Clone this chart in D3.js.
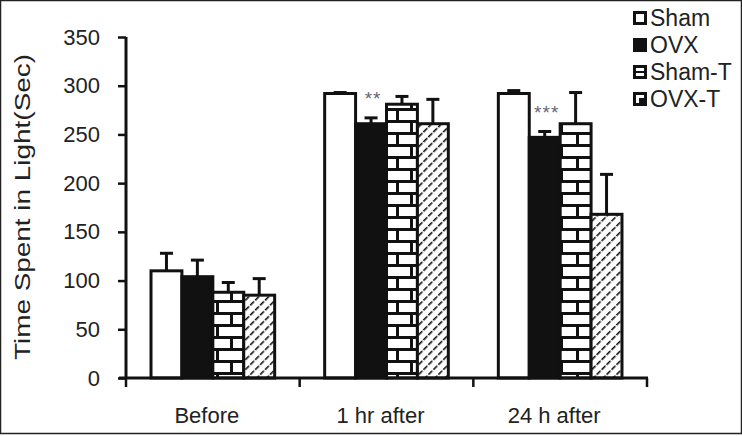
<!DOCTYPE html>
<html><head><meta charset="utf-8">
<script src="https://cdn.jsdelivr.net/npm/d3@7"></script>
<style>body{margin:0;background:#fff}svg{display:block}text{font-family:"Liberation Sans",Arial,sans-serif}</style>
</head><body><svg id="c" width="742" height="436"></svg>
<script>
const categories = ["Before", "1 hr after", "24 h after"];
const seriesNames = ["Sham", "OVX", "Sham-T", "OVX-T"];
const shamMean  = [110, 292, 292];
const ovxMean   = [104, 261, 247];
const shamTMean = [88, 281, 261];
const ovxTMean  = [85, 261, 168];
const shamErr   = [18, 1, 3];
const ovxErr    = [17, 6, 6];
const shamTErr  = [10, 8, 32];
const ovxTErr   = [17, 25, 41];
const yTicks = [0, 50, 100, 150, 200, 250, 300, 350];
const stars = [{cat: "1 hr after", label: "**"}, {cat: "24 h after", label: "***"}];

const means = [shamMean, ovxMean, shamTMean, ovxTMean];
const errs = [shamErr, ovxErr, shamTErr, ovxTErr];
const data = [];
categories.forEach((c, i) => seriesNames.forEach((s, j) => data.push({cat: c, s, v: means[j][i], e: errs[j][i]})));

const svg = d3.select("#c");
const defs = svg.append("defs");
// brick pattern
const brick = defs.append("pattern").attr("id", "brick").attr("patternUnits", "userSpaceOnUse")
  .attr("width", 30).attr("height", 24);
brick.append("rect").attr("width", 30).attr("height", 24).attr("fill", "#fff");
brick.append("rect").attr("x", 0).attr("y", 0).attr("width", 30).attr("height", 3).attr("fill", "#111");
brick.append("rect").attr("x", 0).attr("y", 12).attr("width", 30).attr("height", 3).attr("fill", "#111");
brick.append("rect").attr("x", 20).attr("y", 0).attr("width", 3).attr("height", 12).attr("fill", "#111");
brick.append("rect").attr("x", 6).attr("y", 12).attr("width", 3).attr("height", 12).attr("fill", "#111");
// hatch pattern
const hatch = defs.append("pattern").attr("id", "hatch").attr("patternUnits", "userSpaceOnUse")
  .attr("width", 7).attr("height", 7).attr("patternTransform", "rotate(45)");
hatch.append("rect").attr("width", 7).attr("height", 7).attr("fill", "#fff");
hatch.append("line").attr("x1", 0).attr("y1", 0).attr("x2", 0).attr("y2", 7)
  .attr("stroke", "#111").attr("stroke-width", 3.2).attr("stroke-dasharray", "4 1.5");

const fills = {"Sham": "#fff", "OVX": "#111", "Sham-T": "url(#brick)", "OVX-T": "url(#hatch)"};

// border
svg.append("rect").attr("x", 0.5).attr("y", 0.5).attr("width", 741).attr("height", 433)
  .attr("fill", "none").attr("stroke", "#222").attr("stroke-width", 1.5);

const y = d3.scaleLinear().domain([0, 350]).range([378, 37]);
const pad = 0.288;
const x0 = d3.scaleBand().domain(categories).range([126, 647]).paddingInner(pad).paddingOuter(pad / 2);
const x1 = d3.scaleBand().domain(seriesNames).range([0, x0.bandwidth()]);
const step = x0.step();

// bars
const g = svg.append("g");
g.selectAll("rect.bar").data(data).join("rect").attr("class", "bar")
  .attr("x", d => x0(d.cat) + x1(d.s))
  .attr("y", d => y(d.v))
  .attr("width", x1.bandwidth())
  .attr("height", d => y(0) - y(d.v))
  .attr("fill", d => fills[d.s])
  .attr("stroke", "#111").attr("stroke-width", 3);

// error bars
const eb = g.selectAll("g.eb").data(data).join("g").attr("class", "eb");
eb.append("line")
  .attr("x1", d => x0(d.cat) + x1(d.s) + x1.bandwidth() / 2)
  .attr("x2", d => x0(d.cat) + x1(d.s) + x1.bandwidth() / 2)
  .attr("y1", d => y(d.v)).attr("y2", d => y(d.v + d.e))
  .attr("stroke", "#111").attr("stroke-width", 3);
eb.append("line")
  .attr("x1", d => x0(d.cat) + x1(d.s) + x1.bandwidth() / 2 - 6.5)
  .attr("x2", d => x0(d.cat) + x1(d.s) + x1.bandwidth() / 2 + 6.5)
  .attr("y1", d => y(d.v + d.e)).attr("y2", d => y(d.v + d.e))
  .attr("stroke", "#111").attr("stroke-width", 3);

// y axis
const yAxis = svg.append("g").attr("transform", "translate(126,0)")
  .call(d3.axisLeft(y).tickValues(yTicks).tickSize(8).tickPadding(18));
yAxis.select(".domain").attr("stroke", "#111").attr("stroke-width", 3).attr("d", "M0,37V378");
yAxis.selectAll(".tick line").attr("stroke", "#111").attr("stroke-width", 2.5);
yAxis.selectAll(".tick text").attr("font-size", 22).attr("fill", "#222");

// x axis
const xAxis = svg.append("g").attr("transform", "translate(0,378)");
xAxis.append("line").attr("x1", 119).attr("x2", 648).attr("y1", 0).attr("y2", 0)
  .attr("stroke", "#111").attr("stroke-width", 3);
const bounds = categories.map(c => x0(c) - step * pad / 2).concat([x0(categories[categories.length - 1]) + x0.bandwidth() + step * pad / 2]);
xAxis.selectAll("line.t").data(bounds).join("line").attr("class", "t")
  .attr("x1", d => d).attr("x2", d => d).attr("y1", 0).attr("y2", 9)
  .attr("stroke", "#111").attr("stroke-width", 2.5);
xAxis.selectAll("text").data(categories).join("text")
  .attr("x", d => x0(d) + x0.bandwidth() / 2 - 6).attr("y", 45)
  .attr("text-anchor", "middle").attr("font-size", 22).attr("fill", "#222").text(d => d);

// y title
svg.append("text").attr("transform", "translate(30,207) rotate(-90)")
  .attr("text-anchor", "middle").attr("font-size", 22).attr("fill", "#222")
  .attr("textLength", 306).attr("lengthAdjust", "spacingAndGlyphs")
  .text("Time Spent in Light(Sec)");

// stars
svg.selectAll("text.star").data(stars).join("text").attr("class", "star")
  .attr("x", d => x0(d.cat) + x1("OVX") + x1.bandwidth() / 2 + 2)
  .attr("y", d => {
    const i = categories.indexOf(d.cat);
    return y(ovxMean[i] + ovxErr[i]) - 13;
  })
  .attr("text-anchor", "middle").attr("font-size", 19).attr("fill", "#667").attr("letter-spacing", 1)
  .text(d => d.label);

// legend
const leg = svg.append("g").attr("transform", "translate(633,18)");
const li = leg.selectAll("g").data(seriesNames).join("g").attr("transform", (d, i) => `translate(0,${i * 27})`);
li.append("rect").attr("x", 1.5).attr("y", -5.5).attr("width", 11).attr("height", 11)
  .attr("fill", d => d === "OVX" ? "#111" : "#fff").attr("stroke", "#111").attr("stroke-width", 3);
li.filter(d => d === "Sham-T").append("rect").attr("x", 1.5).attr("y", -1).attr("width", 11).attr("height", 2).attr("fill", "#111");
li.filter(d => d === "OVX-T").append("rect").attr("x", 6).attr("y", -1).attr("width", 6).attr("height", 6).attr("fill", "#111");
li.append("text").attr("x", 17).attr("y", 8).attr("font-size", 23).attr("fill", "#222").text(d => d);
</script></body></html>
